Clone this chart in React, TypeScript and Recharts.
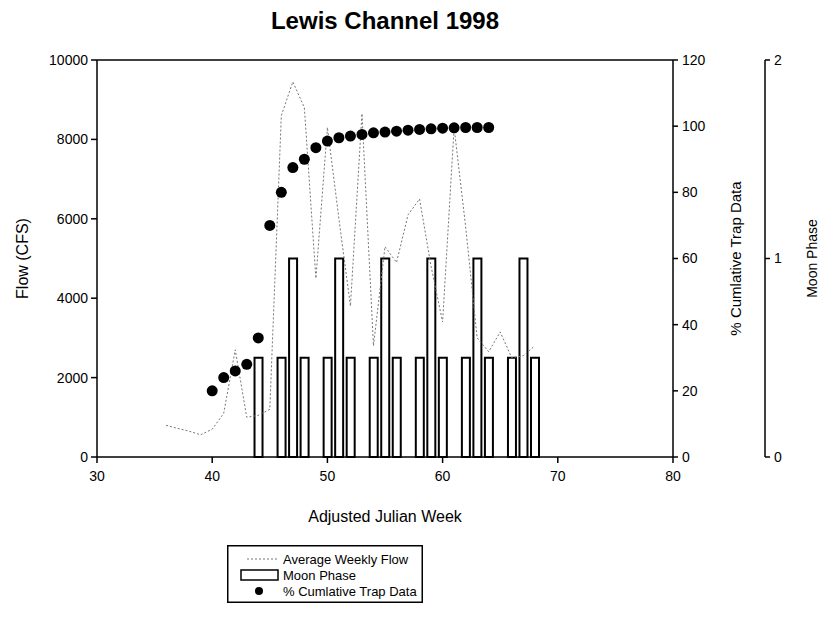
import {
  ComposedChart,
  Line,
  Bar,
  XAxis,
  YAxis,
  ReferenceLine,
  Legend,
} from "recharts";

// average weekly flow (CFS)
const flowWeeks = [36, 37, 38, 39, 40, 41, 42, 43, 44, 45, 46, 47, 48, 49, 50, 51, 52, 53, 54, 55, 56, 57, 58, 59, 60, 61, 62, 63, 64, 65, 66, 67, 68];
const flowCfs = [800, 720, 650, 560, 700, 1100, 2700, 1000, 1050, 1200, 8600, 9450, 8800, 4500, 8300, 6000, 3800, 8650, 2800, 5300, 4900, 6100, 6500, 4800, 3400, 8300, 5800, 3000, 2650, 3150, 2500, 2550, 2800];

// % cumulative trap data
const trapWeeks = [40, 41, 42, 43, 44, 45, 46, 47, 48, 49, 50, 51, 52, 53, 54, 55, 56, 57, 58, 59, 60, 61, 62, 63, 64];
const trapPct = [20, 24, 26, 28, 36, 70, 80, 87.5, 90, 93.5, 95.5, 96.5, 97, 97.5, 98, 98.2, 98.5, 98.8, 99, 99.2, 99.4, 99.5, 99.6, 99.6, 99.6];

// moon phase bars
const moonWeeks = [44, 46, 47, 48, 50, 51, 52, 54, 55, 56, 58, 59, 60, 62, 63, 64, 66, 67, 68];
const moonPhase = [0.5, 0.5, 1, 0.5, 0.5, 1, 0.5, 0.5, 1, 0.5, 0.5, 1, 0.5, 0.5, 1, 0.5, 0.5, 1, 0.5];

const xTicks = [30, 40, 50, 60, 70, 80];
const flowTicks = [0, 2000, 4000, 6000, 8000, 10000];
const trapTicks = [0, 20, 40, 60, 80, 100, 120];
const moonTicks = [0, 1, 2];

const allWeeks = Array.from(new Set([...flowWeeks, ...trapWeeks, ...moonWeeks])).sort((a, b) => a - b);
const rows = allWeeks.map((week) => {
  const fi = flowWeeks.indexOf(week);
  const ti = trapWeeks.indexOf(week);
  const mi = moonWeeks.indexOf(week);
  return {
    week,
    flow: fi >= 0 ? flowCfs[fi] : null,
    trap: ti >= 0 ? trapPct[ti] : null,
    moon: mi >= 0 ? moonPhase[mi] : null,
  };
});

const FONT = '"Liberation Sans", Arial, sans-serif';
const tickStyle = { fontSize: 14, fill: "#000", fontFamily: FONT };
const labelStyle = { fontSize: 16, fill: "#000", fontFamily: FONT };

// right-hand axes: r1 sits against the plot, r2 further out
const TRAP_AXIS = "r1";
const MOON_AXIS = "r2";

function LegendBox() {
  return (
    <svg width={196} height={58} style={{ display: "block" }}>
      <rect x={0.75} y={0.75} width={194.5} height={56.5} fill="#fff" stroke="#000" strokeWidth={1.5} />
      <line x1={20} y1={14} x2={50} y2={14} stroke="#777" strokeWidth={1} strokeDasharray="2 2" />
      <rect x={14} y={25} width={37} height={10} fill="#fff" stroke="#000" strokeWidth={1.5} />
      <circle cx={32} cy={46} r={4} fill="#000" />
      <g fontFamily={FONT} fontSize={13} fill="#000">
        <text x={56} y={19}>Average Weekly Flow</text>
        <text x={56} y={35}>Moon Phase</text>
        <text x={56} y={51}>% Cumlative Trap Data</text>
      </g>
    </svg>
  );
}

export default function App() {
  return (
    <div
      style={{
        position: "absolute",
        left: 0,
        top: 0,
        width: 840,
        height: 630,
        background: "#fff",
        fontFamily: FONT,
      }}
    >
      <div
        style={{
          position: "absolute",
          left: 97,
          width: 576,
          top: 7,
          textAlign: "center",
          fontSize: 24,
          fontWeight: "bold",
          zIndex: 2,
        }}
      >
        Lewis Channel 1998
      </div>
      <ComposedChart
        width={840}
        height={630}
        data={rows}
        margin={{ top: 60, right: 0, bottom: 103, left: 0 }}
      >
        <XAxis
          dataKey="week"
          type="number"
          domain={[30, 80]}
          ticks={xTicks}
          allowDataOverflow
          height={70}
          tickSize={6}
          tickMargin={8}
          tick={tickStyle}
          axisLine={{ stroke: "#000", strokeWidth: 1.5 }}
          tickLine={{ stroke: "#000", strokeWidth: 1.5 }}
          label={{ value: "Adjusted Julian Week", position: "center", dy: 24, style: labelStyle }}
        />
        <YAxis
          yAxisId="flow"
          domain={[0, 10000]}
          ticks={flowTicks}
          width={97}
          tickSize={6}
          tickMargin={3}
          tick={tickStyle}
          axisLine={{ stroke: "#000", strokeWidth: 1.5 }}
          tickLine={{ stroke: "#000", strokeWidth: 1.5 }}
          label={{ value: "Flow (CFS)", angle: -90, position: "center", dx: -26, style: labelStyle }}
        />
        <YAxis
          yAxisId={TRAP_AXIS}
          orientation="right"
          domain={[0, 120]}
          ticks={trapTicks}
          width={92}
          tickSize={5}
          tickMargin={4}
          tick={tickStyle}
          axisLine={{ stroke: "#000", strokeWidth: 1.5 }}
          tickLine={{ stroke: "#000", strokeWidth: 1.5 }}
          label={{ value: "% Cumlative Trap Data", angle: -90, position: "center", dx: 17, style: { ...labelStyle, fontSize: 15 } }}
        />
        <YAxis
          yAxisId={MOON_AXIS}
          orientation="right"
          domain={[0, 2]}
          ticks={moonTicks}
          width={75}
          tickSize={5}
          tickMargin={4}
          tick={tickStyle}
          axisLine={{ stroke: "#000", strokeWidth: 1.5 }}
          tickLine={{ stroke: "#000", strokeWidth: 1.5 }}
          label={{ value: "Moon Phase", angle: -90, position: "center", dx: 10, style: { ...labelStyle, fontSize: 14 } }}
        />
        <ReferenceLine yAxisId="flow" y={10000} stroke="#000" strokeWidth={1.5} />
        <Bar
          yAxisId={MOON_AXIS}
          dataKey="moon"
          name="Moon Phase"
          barSize={8}
          fill="#fff"
          stroke="#000"
          strokeWidth={2}
          isAnimationActive={false}
        />
        <Line
          yAxisId="flow"
          dataKey="flow"
          name="Average Weekly Flow"
          type="linear"
          stroke="#777"
          strokeWidth={1}
          strokeDasharray="2 2"
          dot={false}
          connectNulls
          isAnimationActive={false}
        />
        <Line
          yAxisId={TRAP_AXIS}
          dataKey="trap"
          name="% Cumlative Trap Data"
          stroke="none"
          dot={{ r: 5.5, fill: "#000", stroke: "none" }}
          activeDot={false}
          isAnimationActive={false}
        />
        <Legend
          layout="vertical"
          align="center"
          verticalAlign="middle"
          wrapperStyle={{ left: 227, top: 545, width: 196, height: 58 }}
          content={() => <LegendBox />}
        />
      </ComposedChart>
    </div>
  );
}
